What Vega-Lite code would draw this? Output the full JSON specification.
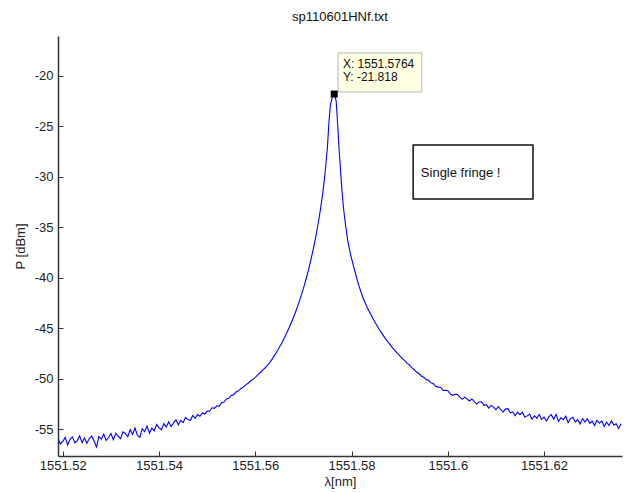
{
"$schema": "https://vega.github.io/schema/vega-lite/v6.json",
"width": 564,
"height": 420,
"autosize": {"type": "none"},
"padding": {"left": 58, "top": 36, "right": 9, "bottom": 37},
"background": "white",
"config": {"view": {"stroke": null}, "font": "Liberation Sans"},
"title": {"text": "sp110601HNf.txt", "fontSize": 13, "fontWeight": "normal", "font": "Liberation Sans", "color": "#111", "offset": 12, "anchor": "middle"},
"datasets": {
"spec": [
{"lambda":1551.5190,"P":-55.95},{"lambda":1551.5195,"P":-56.45},{"lambda":1551.5200,"P":-56.20},{"lambda":1551.5205,"P":-55.80},{"lambda":1551.5210,"P":-56.55},{"lambda":1551.5215,"P":-56.00},{"lambda":1551.5220,"P":-55.75},{"lambda":1551.5225,"P":-56.33},{"lambda":1551.5230,"P":-56.11},{"lambda":1551.5235,"P":-55.64},{"lambda":1551.5240,"P":-56.32},{"lambda":1551.5245,"P":-55.85},{"lambda":1551.5250,"P":-56.38},{"lambda":1551.5255,"P":-55.92},{"lambda":1551.5260,"P":-55.66},{"lambda":1551.5265,"P":-56.15},{"lambda":1551.5270,"P":-56.75},{"lambda":1551.5275,"P":-55.70},{"lambda":1551.5280,"P":-55.97},{"lambda":1551.5285,"P":-55.48},{"lambda":1551.5290,"P":-56.10},{"lambda":1551.5295,"P":-55.81},{"lambda":1551.5300,"P":-55.42},{"lambda":1551.5305,"P":-56.03},{"lambda":1551.5310,"P":-55.40},{"lambda":1551.5315,"P":-55.67},{"lambda":1551.5320,"P":-55.93},{"lambda":1551.5325,"P":-55.25},{"lambda":1551.5330,"P":-55.41},{"lambda":1551.5335,"P":-55.73},{"lambda":1551.5340,"P":-55.04},{"lambda":1551.5345,"P":-55.51},{"lambda":1551.5350,"P":-54.87},{"lambda":1551.5355,"P":-55.59},{"lambda":1551.5360,"P":-55.80},{"lambda":1551.5365,"P":-54.94},{"lambda":1551.5370,"P":-55.24},{"lambda":1551.5375,"P":-54.68},{"lambda":1551.5380,"P":-55.38},{"lambda":1551.5385,"P":-54.87},{"lambda":1551.5390,"P":-55.16},{"lambda":1551.5395,"P":-54.51},{"lambda":1551.5400,"P":-54.85},{"lambda":1551.5405,"P":-55.04},{"lambda":1551.5410,"P":-54.43},{"lambda":1551.5415,"P":-54.76},{"lambda":1551.5420,"P":-54.25},{"lambda":1551.5425,"P":-54.74},{"lambda":1551.5430,"P":-54.38},{"lambda":1551.5435,"P":-54.06},{"lambda":1551.5440,"P":-54.55},{"lambda":1551.5445,"P":-54.12},{"lambda":1551.5450,"P":-54.34},{"lambda":1551.5455,"P":-53.82},{"lambda":1551.5460,"P":-54.04},{"lambda":1551.5465,"P":-54.11},{"lambda":1551.5470,"P":-53.63},{"lambda":1551.5475,"P":-53.91},{"lambda":1551.5480,"P":-53.53},{"lambda":1551.5485,"P":-53.70},{"lambda":1551.5490,"P":-53.36},{"lambda":1551.5495,"P":-53.48},{"lambda":1551.5500,"P":-53.19},{"lambda":1551.5505,"P":-53.21},{"lambda":1551.5510,"P":-52.87},{"lambda":1551.5515,"P":-52.92},{"lambda":1551.5520,"P":-52.67},{"lambda":1551.5525,"P":-52.73},{"lambda":1551.5530,"P":-52.37},{"lambda":1551.5535,"P":-52.30},{"lambda":1551.5540,"P":-52.00},{"lambda":1551.5545,"P":-51.92},{"lambda":1551.5550,"P":-51.65},{"lambda":1551.5555,"P":-51.57},{"lambda":1551.5560,"P":-51.31},{"lambda":1551.5565,"P":-51.19},{"lambda":1551.5570,"P":-50.98},{"lambda":1551.5575,"P":-50.82},{"lambda":1551.5580,"P":-50.60},{"lambda":1551.5585,"P":-50.44},{"lambda":1551.5590,"P":-50.22},{"lambda":1551.5595,"P":-50.06},{"lambda":1551.5600,"P":-49.85},{"lambda":1551.5605,"P":-49.62},{"lambda":1551.5610,"P":-49.40},{"lambda":1551.5615,"P":-49.17},{"lambda":1551.5620,"P":-48.93},{"lambda":1551.5625,"P":-48.67},{"lambda":1551.5630,"P":-48.40},{"lambda":1551.5635,"P":-48.05},{"lambda":1551.5640,"P":-47.68},{"lambda":1551.5645,"P":-47.29},{"lambda":1551.5650,"P":-46.88},{"lambda":1551.5655,"P":-46.45},{"lambda":1551.5660,"P":-45.99},{"lambda":1551.5665,"P":-45.50},{"lambda":1551.5670,"P":-44.98},{"lambda":1551.5675,"P":-44.43},{"lambda":1551.5680,"P":-43.84},{"lambda":1551.5685,"P":-43.21},{"lambda":1551.5690,"P":-42.54},{"lambda":1551.5695,"P":-41.82},{"lambda":1551.5700,"P":-41.05},{"lambda":1551.5705,"P":-40.22},{"lambda":1551.5710,"P":-39.32},{"lambda":1551.5715,"P":-38.34},{"lambda":1551.5720,"P":-37.27},{"lambda":1551.5725,"P":-36.10},{"lambda":1551.5730,"P":-34.80},{"lambda":1551.5735,"P":-33.35},{"lambda":1551.5740,"P":-31.70},{"lambda":1551.5745,"P":-29.60},{"lambda":1551.5750,"P":-27.00},{"lambda":1551.5753,"P":-24.60},{"lambda":1551.5756,"P":-22.90},{"lambda":1551.5760,"P":-22.10},{"lambda":1551.5764,"P":-21.818},{"lambda":1551.5768,"P":-22.50},{"lambda":1551.5771,"P":-24.70},{"lambda":1551.5774,"P":-27.20},{"lambda":1551.5777,"P":-29.30},{"lambda":1551.5780,"P":-31.30},{"lambda":1551.5783,"P":-33.00},{"lambda":1551.5787,"P":-34.60},{"lambda":1551.5792,"P":-36.30},{"lambda":1551.5798,"P":-37.70},{"lambda":1551.5806,"P":-39.20},{"lambda":1551.5814,"P":-40.60},{"lambda":1551.5823,"P":-41.90},{"lambda":1551.5833,"P":-43.00},{"lambda":1551.5844,"P":-44.00},{"lambda":1551.5856,"P":-45.00},{"lambda":1551.5863,"P":-45.50},{"lambda":1551.5870,"P":-46.00},{"lambda":1551.5875,"P":-46.32},{"lambda":1551.5880,"P":-46.60},{"lambda":1551.5885,"P":-46.93},{"lambda":1551.5890,"P":-47.18},{"lambda":1551.5895,"P":-47.48},{"lambda":1551.5900,"P":-47.70},{"lambda":1551.5905,"P":-47.98},{"lambda":1551.5910,"P":-48.18},{"lambda":1551.5915,"P":-48.45},{"lambda":1551.5920,"P":-48.62},{"lambda":1551.5925,"P":-48.90},{"lambda":1551.5930,"P":-49.08},{"lambda":1551.5935,"P":-49.33},{"lambda":1551.5940,"P":-49.48},{"lambda":1551.5945,"P":-49.72},
{"lambda":1551.5950,"P":-49.85},{"lambda":1551.5955,"P":-50.08},{"lambda":1551.5960,"P":-50.15},{"lambda":1551.5965,"P":-50.40},{"lambda":1551.5970,"P":-50.47},{"lambda":1551.5975,"P":-50.74},{"lambda":1551.5980,"P":-50.82},{"lambda":1551.5985,"P":-50.83},{"lambda":1551.5990,"P":-51.15},{"lambda":1551.5995,"P":-51.13},{"lambda":1551.6000,"P":-51.18},{"lambda":1551.6005,"P":-51.48},{"lambda":1551.6010,"P":-51.64},{"lambda":1551.6015,"P":-51.54},{"lambda":1551.6020,"P":-51.55},{"lambda":1551.6025,"P":-51.82},{"lambda":1551.6030,"P":-52.03},{"lambda":1551.6035,"P":-51.82},{"lambda":1551.6040,"P":-51.98},{"lambda":1551.6045,"P":-52.19},{"lambda":1551.6050,"P":-51.99},{"lambda":1551.6055,"P":-52.26},{"lambda":1551.6060,"P":-52.50},{"lambda":1551.6065,"P":-52.29},{"lambda":1551.6070,"P":-52.27},{"lambda":1551.6075,"P":-52.62},{"lambda":1551.6080,"P":-52.56},{"lambda":1551.6085,"P":-52.89},{"lambda":1551.6090,"P":-52.63},{"lambda":1551.6095,"P":-52.80},{"lambda":1551.6100,"P":-53.06},{"lambda":1551.6105,"P":-52.75},{"lambda":1551.6110,"P":-53.06},{"lambda":1551.6115,"P":-53.29},{"lambda":1551.6120,"P":-53.00},{"lambda":1551.6125,"P":-52.95},{"lambda":1551.6130,"P":-53.37},{"lambda":1551.6135,"P":-53.27},{"lambda":1551.6140,"P":-53.65},{"lambda":1551.6145,"P":-53.30},{"lambda":1551.6150,"P":-53.55},{"lambda":1551.6155,"P":-53.31},{"lambda":1551.6160,"P":-53.78},{"lambda":1551.6165,"P":-53.67},{"lambda":1551.6170,"P":-53.50},{"lambda":1551.6175,"P":-54.00},{"lambda":1551.6180,"P":-53.67},{"lambda":1551.6185,"P":-53.89},{"lambda":1551.6190,"P":-53.54},{"lambda":1551.6195,"P":-54.02},{"lambda":1551.6200,"P":-53.80},{"lambda":1551.6205,"P":-54.17},{"lambda":1551.6210,"P":-53.75},{"lambda":1551.6215,"P":-53.55},{"lambda":1551.6220,"P":-54.00},{"lambda":1551.6225,"P":-53.52},{"lambda":1551.6230,"P":-54.20},{"lambda":1551.6235,"P":-53.85},{"lambda":1551.6240,"P":-54.05},{"lambda":1551.6245,"P":-53.70},{"lambda":1551.6250,"P":-54.32},{"lambda":1551.6255,"P":-53.94},{"lambda":1551.6260,"P":-53.80},{"lambda":1551.6265,"P":-54.27},{"lambda":1551.6270,"P":-54.05},{"lambda":1551.6275,"P":-54.47},{"lambda":1551.6280,"P":-53.93},{"lambda":1551.6285,"P":-54.28},{"lambda":1551.6290,"P":-53.95},{"lambda":1551.6295,"P":-54.42},{"lambda":1551.6300,"P":-54.20},{"lambda":1551.6305,"P":-54.62},{"lambda":1551.6310,"P":-54.10},{"lambda":1551.6315,"P":-54.40},{"lambda":1551.6320,"P":-54.17},{"lambda":1551.6325,"P":-54.72},{"lambda":1551.6330,"P":-54.30},{"lambda":1551.6335,"P":-54.62},{"lambda":1551.6340,"P":-54.17},{"lambda":1551.6345,"P":-54.57},{"lambda":1551.6350,"P":-54.45},{"lambda":1551.6355,"P":-54.93},{"lambda":1551.6360,"P":-54.45}
]
},
"layer": [
{
"data": {"name": "spec"},
"mark": {"type": "line", "color": "#0000ff", "strokeWidth": 1.1, "clip": true},
"encoding": {
"x": {"field": "lambda", "type": "quantitative",
"scale": {"domain": [1551.519, 1551.6362], "nice": false, "zero": false},
"axis": {"values": [1551.52, 1551.54, 1551.56, 1551.58, 1551.6, 1551.62], "labelExpr": "'' + datum.value", "title": "λ[nm]", "grid": false,
"tickSize": -5, "tickColor": "#333", "domainColor": "#333", "domainWidth": 1.5, "labelPadding": 8, "labelFontSize": 13, "labelColor": "#222", "labelFont": "Liberation Sans",
"titleFontSize": 13, "titleFontWeight": "normal", "titleColor": "#222", "titleFont": "Liberation Sans", "titlePadding": 3, "labelFlush": false}},
"y": {"field": "P", "type": "quantitative",
"scale": {"domain": [-57.64, -16.07], "nice": false, "zero": false},
"axis": {"values": [-55, -50, -45, -40, -35, -30, -25, -20], "labelExpr": "'' + datum.value", "title": "P [dBm]", "grid": false,
"tickSize": -5, "tickColor": "#333", "domainColor": "#333", "domainWidth": 1.5, "labelPadding": 10, "labelFontSize": 13, "labelColor": "#222", "labelFont": "Liberation Sans",
"titleFontSize": 13, "titleFontWeight": "normal", "titleColor": "#222", "titleFont": "Liberation Sans", "titlePadding": 7}}
}
},
{
"data": {"values": [{"lambda": 1551.5772, "lambda2": 1551.5946, "P": -17.75, "P2": -21.61}]},
"mark": {"type": "rect", "fill": "#ffffe1", "stroke": "#b8b8b8", "strokeWidth": 1},
"encoding": {"x": {"field": "lambda", "type": "quantitative"}, "x2": {"field": "lambda2"}, "y": {"field": "P", "type": "quantitative"}, "y2": {"field": "P2"}}
},
{
"data": {"values": [{"lambda": 1551.5782, "P": -18.84, "label": "X: 1551.5764"}, {"lambda": 1551.5782, "P": -20.13, "label": "Y: -21.818"}]},
"mark": {"type": "text", "align": "left", "baseline": "middle", "fontSize": 12, "font": "Liberation Sans", "color": "#111"},
"encoding": {"x": {"field": "lambda", "type": "quantitative"}, "y": {"field": "P", "type": "quantitative"}, "text": {"field": "label"}}
},
{
"data": {"values": [{"lambda": 1551.5764, "P": -21.818}]},
"mark": {"type": "point", "shape": "square", "filled": true, "color": "#000000", "size": 49, "opacity": 1},
"encoding": {"x": {"field": "lambda", "type": "quantitative"}, "y": {"field": "P", "type": "quantitative"}}
},
{
"data": {"values": [{"lambda": 1551.5928, "lambda2": 1551.6177, "P": -26.86, "P2": -32.21}]},
"mark": {"type": "rect", "fill": "#ffffff", "stroke": "#111111", "strokeWidth": 1.5},
"encoding": {"x": {"field": "lambda", "type": "quantitative"}, "x2": {"field": "lambda2"}, "y": {"field": "P", "type": "quantitative"}, "y2": {"field": "P2"}}
},
{
"data": {"values": [{"lambda": 1551.5944, "P": -29.63, "label": "Single fringe !"}]},
"mark": {"type": "text", "align": "left", "baseline": "middle", "fontSize": 13, "font": "Liberation Sans", "color": "#111"},
"encoding": {"x": {"field": "lambda", "type": "quantitative"}, "y": {"field": "P", "type": "quantitative"}, "text": {"field": "label"}}
}
]
}
